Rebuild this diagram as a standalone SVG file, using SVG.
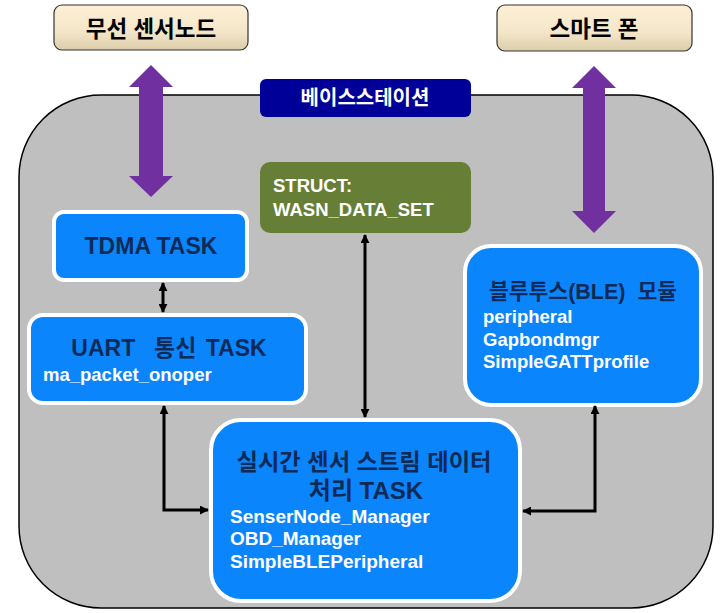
<svg xmlns="http://www.w3.org/2000/svg" width="722" height="613" viewBox="0 0 722 613">
<defs>
<linearGradient id="cream" x1="0" y1="0" x2="0" y2="1">
<stop offset="0" stop-color="#fdf0d6"/>
<stop offset="0.6" stop-color="#f3e6c8"/>
<stop offset="1" stop-color="#dccdaa"/>
</linearGradient>
<marker id="ah" viewBox="0 0 10 10" refX="9" refY="5" markerWidth="9" markerHeight="9" markerUnits="userSpaceOnUse" orient="auto-start-reverse">
<path d="M0,0 L10,5 L0,10 z" fill="#000"/>
</marker>
<style>
.f{font-family:"Liberation Sans","Noto Sans CJK KR",Arial,sans-serif;font-weight:bold}
.navy{fill:#0e2a56}
.wh{fill:#ffffff}
.blk{fill:#000000}
.task{fill:#0a85fc;stroke:#ffffff;stroke-width:4}
.top{fill:url(#cream);stroke:#333333;stroke-width:1.2}
.conn{fill:none;stroke:#000;stroke-width:3;marker-start:url(#ah);marker-end:url(#ah)}
.purple{fill:#7030a0}
</style>
</defs>
<g id="basestation-bg">
<rect x="19" y="95" width="694" height="513" rx="82" ry="82" fill="#bfbfbf" stroke="#000" stroke-width="1.5"/>
</g>
<g id="node-sensor">
<rect class="top" x="54" y="5" width="194" height="45" rx="8"/>
<text class="f blk" x="151" y="37" font-size="22.5" text-anchor="middle">무선 센서노드</text>
</g>
<g id="node-phone">
<rect class="top" x="497" y="5" width="195" height="46" rx="8"/>
<text class="f blk" x="594" y="37" font-size="22.5" text-anchor="middle">스마트 폰</text>
</g>
<g id="purple-arrows">
<polygon class="purple" points="151,65 173,87 163,87 163,176 173,176 151,197 129,176 139,176 139,87 129,87"/>
<polygon class="purple" points="594,66 616,88 605,88 605,211 616,211 594,233 572,211 583,211 583,88 572,88"/>
</g>
<g id="node-basestation-label">
<rect x="260" y="79" width="211" height="38" rx="6" fill="#000099"/>
<text class="f wh" x="365" y="105" font-size="20" text-anchor="middle">베이스스테이션</text>
</g>
<g id="node-struct">
<rect x="260" y="162" width="211" height="71" rx="10" fill="#677e37"/>
<text class="f wh" x="273" y="192" font-size="18.5">STRUCT:</text>
<text class="f wh" x="273" y="216" font-size="18.5">WASN_DATA_SET</text>
</g>
<g id="node-tdma">
<rect class="task" x="54" y="212" width="193" height="68" rx="10"/>
<text class="f navy" x="151" y="254" font-size="23" text-anchor="middle">TDMA TASK</text>
</g>
<g id="node-uart">
<rect class="task" x="29" y="315" width="277" height="88" rx="14"/>
<text class="f navy" x="169" y="356" font-size="23" text-anchor="middle" xml:space="preserve" word-spacing="3">UART  통신 TASK</text>
<text class="f wh" x="43" y="381" font-size="18.5">ma_packet_onoper</text>
</g>
<g id="node-ble">
<rect class="task" x="465" y="246" width="236" height="159" rx="26"/>
<text class="f navy" x="583" y="299" font-size="21.5" text-anchor="middle" xml:space="preserve">블루투스(BLE)  모듈</text>
<text class="f wh" x="483" y="323" font-size="18.5">peripheral</text>
<text class="f wh" x="483" y="346" font-size="18.5">Gapbondmgr</text>
<text class="f wh" x="483" y="368" font-size="18.5">SimpleGATTprofile</text>
</g>
<g id="node-main">
<rect class="task" x="211" y="420" width="309" height="181" rx="30"/>
<text class="f navy" x="364" y="470" font-size="23" text-anchor="middle" textLength="255" lengthAdjust="spacingAndGlyphs">실시간 센서 스트림 데이터</text>
<text class="f navy" x="366" y="499" font-size="24" text-anchor="middle">처리 TASK</text>
<text class="f wh" x="230" y="523" font-size="19">SenserNode_Manager</text>
<text class="f wh" x="230" y="545" font-size="19">OBD_Manager</text>
<text class="f wh" x="230" y="568" font-size="19">SimpleBLEPeripheral</text>
</g>
<g id="connectors">
<path class="conn" d="M163,283 L163,312"/>
<path class="conn" d="M365,235 L365,417"/>
<path class="conn" d="M164,406 L164,510 L208,510"/>
<path class="conn" d="M595,406 L595,511 L523,511"/>
</g>
</svg>
